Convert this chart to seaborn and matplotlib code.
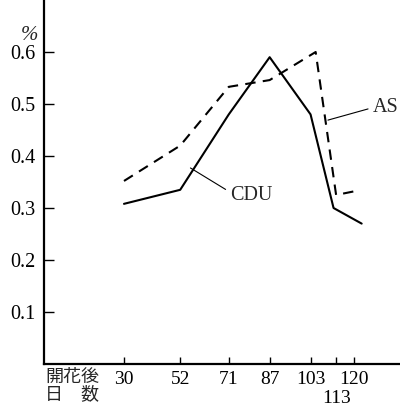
import matplotlib
matplotlib.use('Agg')
import matplotlib.pyplot as plt
import seaborn as sns
import pandas as pd

# days after flowering and contents (%)
days_cdu = [30, 52, 71, 87, 103, 112, 123]
cdu = [0.308, 0.335, 0.48, 0.59, 0.48, 0.30, 0.270]
days_as = [30, 52, 71, 87, 105, 113, 121]
as_vals = [0.352, 0.42, 0.533, 0.546, 0.600, 0.325, 0.333]

xtick_days = [30, 52, 71, 87, 103, 113, 120]
ytick_vals = [0.1, 0.2, 0.3, 0.4, 0.5, 0.6]

sns.set_theme(style='ticks')
plt.rcParams['font.family'] = ['Liberation Serif', 'Noto Sans CJK JP']

df_cdu = pd.DataFrame({'day': days_cdu, 'val': cdu})
df_as = pd.DataFrame({'day': days_as, 'val': as_vals})

fig = plt.figure(figsize=(4.0, 4.08), dpi=100)
ax = fig.add_axes([0.11, 44 / 408, 0.89, 364 / 408])

sns.lineplot(data=df_cdu, x='day', y='val', ax=ax, color='black', linewidth=1.5)
sns.lineplot(data=df_as, x='day', y='val', ax=ax, color='black', linewidth=1.5,
             linestyle=(0, (5, 3.5)))

ax.set_xlim(-1.3, 138)
ax.set_ylim(0, 0.70)
ax.set_xlabel('')
ax.set_ylabel('')

ax.set_xticks(xtick_days)
ax.set_xticklabels([str(d) for d in xtick_days])
ax.set_yticks(ytick_vals)
ax.set_yticklabels(['%.1f' % v for v in ytick_vals])

ax.tick_params(axis='y', direction='in', length=7, width=1.0, labelsize=14.5, pad=6, colors='black')
ax.tick_params(axis='x', direction='in', length=5, width=1.0, labelsize=14, pad=5, colors='black')
# 113 sits on a second row below the others
ax.xaxis.get_major_ticks()[xtick_days.index(113)].set_pad(19)

for side in ['top', 'right']:
    ax.spines[side].set_visible(False)
for side in ['left', 'bottom']:
    ax.spines[side].set_linewidth(1.6)
    ax.spines[side].set_color('black')

ax.annotate('CDU', xy=(56, 0.377), xytext=(71.5, 0.325),
            fontsize=14.5, va='center', ha='left',
            arrowprops=dict(arrowstyle='-', color='black', lw=0.8,
                            shrinkA=1, shrinkB=0, relpos=(0, 0.65)))
ax.annotate('AS', xy=(109.8, 0.469), xytext=(127.3, 0.493),
            fontsize=14.5, va='center', ha='left',
            arrowprops=dict(arrowstyle='-', color='black', lw=0.8,
                            shrinkA=1, shrinkB=0, relpos=(0, 0.5)))

fig.text(30 / 400, 1 - 35 / 408, '%', fontsize=15, style='italic',
         ha='center', va='center')
fig.text(45 / 400, 1 - 368 / 408, '開花後\n日\u3000数', fontsize=13,
         family=['Noto Sans CJK JP'], ha='left', va='top', linespacing=0.95)

fig.savefig('out.png', dpi=100, facecolor='white')
